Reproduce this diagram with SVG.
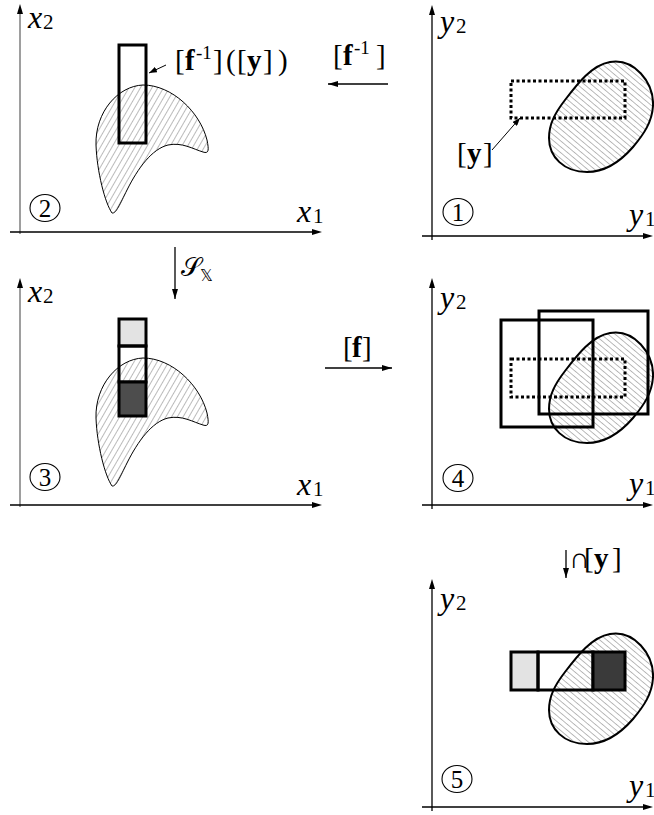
<svg xmlns="http://www.w3.org/2000/svg" width="654" height="815" viewBox="0 0 654 815">
<defs>
<pattern id="hatchA" patternUnits="userSpaceOnUse" width="5" height="5" patternTransform="rotate(30)">
<line x1="0" y1="0" x2="0" y2="5" stroke="#555" stroke-width="0.8"/>
</pattern>
<pattern id="hatchB" patternUnits="userSpaceOnUse" width="4.5" height="4.5" patternTransform="rotate(-50)">
<line x1="0" y1="0" x2="0" y2="4.5" stroke="#555" stroke-width="0.8"/>
</pattern>
<marker id="ah" viewBox="0 0 10 6" refX="10" refY="3" markerWidth="10" markerHeight="6" markerUnits="userSpaceOnUse" orient="auto">
<path d="M0,0 L10,3 L0,6 Z" fill="#000"/>
</marker>
<marker id="ahs" viewBox="0 0 8 6" refX="8" refY="3" markerWidth="8" markerHeight="6" markerUnits="userSpaceOnUse" orient="auto">
<path d="M0,0 L8,3 L0,6 Z" fill="#000"/>
</marker>
<path id="crescent" d="M112,213 C105,203 97,172 96,145 C95,112 118,86 143,85 C172,85 200,112 207,140 C209,150 209,154 203,152 C193,149 182,142 168,145 C152,149 138,168 127,190 C120,204 116,214 112,213 Z" fill="url(#hatchA)" stroke="#000" stroke-width="1"/>
<path id="blobshape" d="M610,62 C634,58 654,82 653,106 C652,122 644,134 633,147 C620,162 605,172 587,172 C564,172 549,157 549,138 C549,124 555,113 565,100 C578,83 592,65 610,62 Z" fill="url(#hatchB)" stroke="#000" stroke-width="2"/>
<path id="arrUp" d="M0,0 L3,10 L-3,10 Z" fill="#000"/>
<path id="arrRight" d="M0,0 L-10,-3 L-10,3 Z" fill="#000"/>
</defs>
<rect width="654" height="815" fill="#fff"/>

<g id="panel2">
<line x1="20" y1="234" x2="20" y2="12" stroke="#6a6a6a" stroke-width="1.3"/>
<use href="#arrUp" x="20" y="4"/>
<line x1="10" y1="232" x2="312" y2="232" stroke="#000" stroke-width="1.3"/>
<use href="#arrRight" x="322" y="232"/>
<text x="28" y="28" font-family="Liberation Serif" font-size="32" font-style="italic">x</text>
<text x="43" y="29" font-family="Liberation Serif" font-size="21">2</text>
<text x="297" y="222" font-family="Liberation Serif" font-size="32" font-style="italic">x</text>
<text x="313" y="223" font-family="Liberation Serif" font-size="21">1</text>
<ellipse cx="45" cy="208" rx="15" ry="13.5" fill="none" stroke="#000" stroke-width="1.1"/>
<text x="45" y="217" text-anchor="middle" font-family="Liberation Serif" font-size="25">2</text>
<use href="#crescent"/>
<rect x="119" y="45" width="27" height="98" fill="none" stroke="#000" stroke-width="3"/>
<text x="175" y="70" font-family="Liberation Serif" font-size="29">[</text>
<text x="185" y="70" font-family="Liberation Serif" font-size="29" font-weight="bold">f</text>
<text x="196" y="59" font-family="Liberation Serif" font-size="19">-1</text>
<text x="213" y="70" font-family="Liberation Serif" font-size="29">]</text>
<text x="226" y="70" font-family="Liberation Serif" font-size="29">(</text>
<text x="237" y="70" font-family="Liberation Serif" font-size="29">[</text>
<text x="247" y="70" font-family="Liberation Serif" font-size="29" font-weight="bold">y</text>
<text x="263" y="70" font-family="Liberation Serif" font-size="29">]</text>
<text x="278" y="70" font-family="Liberation Serif" font-size="29">)</text>
</g>

<g id="panel1">
<line x1="432" y1="240" x2="432" y2="14" stroke="#000" stroke-width="1.3"/>
<use href="#arrUp" x="432" y="5"/>
<line x1="422" y1="236" x2="643" y2="236" stroke="#000" stroke-width="1.3"/>
<use href="#arrRight" x="653" y="236"/>
<text x="440" y="32" font-family="Liberation Serif" font-size="32" font-style="italic">y</text>
<text x="456" y="33" font-family="Liberation Serif" font-size="21">2</text>
<text x="629" y="225" font-family="Liberation Serif" font-size="32" font-style="italic">y</text>
<text x="645" y="226" font-family="Liberation Serif" font-size="21">1</text>
<ellipse cx="458" cy="212" rx="15" ry="13.5" fill="none" stroke="#000" stroke-width="1.1"/>
<text x="458" y="221" text-anchor="middle" font-family="Liberation Serif" font-size="25">1</text>
<use href="#blobshape"/>
<rect x="511" y="81" width="114" height="37" fill="none" stroke="#000" stroke-width="3" stroke-dasharray="3 2.5"/>
<text x="457" y="163" font-family="Liberation Serif" font-size="29">[</text>
<text x="467" y="163" font-family="Liberation Serif" font-size="29" font-weight="bold">y</text>
<text x="483" y="163" font-family="Liberation Serif" font-size="29">]</text>
</g>

<g id="panel3">
<line x1="20" y1="507" x2="20" y2="286" stroke="#6a6a6a" stroke-width="1.3"/>
<use href="#arrUp" x="20" y="278"/>
<line x1="10" y1="505" x2="312" y2="505" stroke="#000" stroke-width="1.3"/>
<use href="#arrRight" x="322" y="505"/>
<text x="28" y="302" font-family="Liberation Serif" font-size="32" font-style="italic">x</text>
<text x="43" y="303" font-family="Liberation Serif" font-size="21">2</text>
<text x="297" y="495" font-family="Liberation Serif" font-size="32" font-style="italic">x</text>
<text x="313" y="496" font-family="Liberation Serif" font-size="21">1</text>
<ellipse cx="45" cy="477" rx="15" ry="13.5" fill="none" stroke="#000" stroke-width="1.1"/>
<text x="45" y="486" text-anchor="middle" font-family="Liberation Serif" font-size="25">3</text>
<use href="#crescent" transform="translate(0,273)"/>
<rect x="119" y="319" width="27" height="27" fill="#e3e3e3" stroke="#000" stroke-width="3"/>
<rect x="119" y="346" width="27" height="36" fill="none" stroke="#000" stroke-width="3"/>
<rect x="119" y="382" width="27" height="34" fill="#4d4d4d" stroke="#000" stroke-width="3"/>
</g>

<g id="panel4">
<line x1="432" y1="509" x2="432" y2="287" stroke="#000" stroke-width="1.3"/>
<use href="#arrUp" x="432" y="278"/>
<line x1="422" y1="505" x2="643" y2="505" stroke="#000" stroke-width="1.3"/>
<use href="#arrRight" x="653" y="505"/>
<text x="440" y="308" font-family="Liberation Serif" font-size="32" font-style="italic">y</text>
<text x="456" y="309" font-family="Liberation Serif" font-size="21">2</text>
<text x="629" y="494" font-family="Liberation Serif" font-size="32" font-style="italic">y</text>
<text x="645" y="495" font-family="Liberation Serif" font-size="21">1</text>
<ellipse cx="458" cy="478" rx="15" ry="13.5" fill="none" stroke="#000" stroke-width="1.1"/>
<text x="458" y="487" text-anchor="middle" font-family="Liberation Serif" font-size="25">4</text>
<use href="#blobshape" transform="translate(0,271)"/>
<rect x="511" y="359" width="114" height="38" fill="none" stroke="#000" stroke-width="3" stroke-dasharray="3 2.5"/>
<rect x="501" y="320" width="92" height="107" fill="none" stroke="#000" stroke-width="3"/>
<rect x="539" y="311" width="109" height="103" fill="none" stroke="#000" stroke-width="3"/>
</g>

<g id="panel5">
<line x1="432" y1="811" x2="432" y2="588" stroke="#000" stroke-width="1.3"/>
<use href="#arrUp" x="432" y="579"/>
<line x1="422" y1="807" x2="643" y2="807" stroke="#000" stroke-width="1.3"/>
<use href="#arrRight" x="653" y="807"/>
<text x="440" y="609" font-family="Liberation Serif" font-size="32" font-style="italic">y</text>
<text x="456" y="610" font-family="Liberation Serif" font-size="21">2</text>
<text x="629" y="796" font-family="Liberation Serif" font-size="32" font-style="italic">y</text>
<text x="645" y="797" font-family="Liberation Serif" font-size="21">1</text>
<ellipse cx="457" cy="779" rx="15" ry="13.5" fill="none" stroke="#000" stroke-width="1.1"/>
<text x="457" y="788" text-anchor="middle" font-family="Liberation Serif" font-size="25">5</text>
<use href="#blobshape" transform="translate(0,572)"/>
<rect x="511" y="652" width="27" height="38" fill="#e3e3e3" stroke="#000" stroke-width="3"/>
<rect x="538" y="652" width="55" height="38" fill="none" stroke="#000" stroke-width="3"/>
<rect x="593" y="652" width="32" height="38" fill="#3a3a3a" stroke="#000" stroke-width="3"/>
</g>

<g id="connectors" stroke="#000" stroke-width="1.3" fill="none">
<line x1="388" y1="84" x2="328" y2="84" marker-end="url(#ah)"/>
<line x1="166" y1="65" x2="149" y2="73" stroke-width="1" marker-end="url(#ahs)"/>
<line x1="492" y1="150" x2="520" y2="118" stroke-width="1" marker-end="url(#ahs)"/>
<line x1="175" y1="247" x2="175" y2="299" marker-end="url(#ah)"/>
<line x1="325" y1="368" x2="392" y2="368" marker-end="url(#ah)"/>
<line x1="566" y1="550" x2="566" y2="578" marker-end="url(#ah)"/>
</g>

<g id="labels">
<text x="333" y="65" font-family="Liberation Serif" font-size="29">[</text>
<text x="343" y="65" font-family="Liberation Serif" font-size="29" font-weight="bold">f</text>
<text x="354" y="54" font-family="Liberation Serif" font-size="19">-1</text>
<text x="376" y="65" font-family="Liberation Serif" font-size="29">]</text>
<text x="181" y="276" font-family="DejaVu Serif, DejaVu Sans, serif" font-size="26">𝒮</text>
<text x="200" y="281" font-family="DejaVu Sans, sans-serif" font-size="16">𝕏</text>
<text x="343" y="357" font-family="Liberation Serif" font-size="29">[</text>
<text x="352" y="357" font-family="Liberation Serif" font-size="29" font-weight="bold">f</text>
<text x="362" y="357" font-family="Liberation Serif" font-size="29">]</text>
<text x="569" y="568" font-family="Liberation Serif" font-size="29">&#8745;</text>
<text x="584" y="568" font-family="Liberation Serif" font-size="29">[</text>
<text x="594" y="568" font-family="Liberation Serif" font-size="29" font-weight="bold">y</text>
<text x="612" y="568" font-family="Liberation Serif" font-size="29">]</text>
</g>
</svg>
